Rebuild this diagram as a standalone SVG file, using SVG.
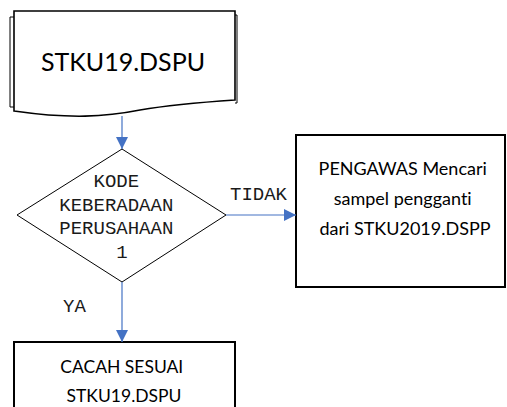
<svg xmlns="http://www.w3.org/2000/svg" width="507" height="407" viewBox="0 0 507 407">
  <style>
    .shape { fill: #ffffff; stroke: #000000; stroke-width: 1.6; }
    .thin { fill: none; stroke: #000000; stroke-width: 1; }
    .box { fill: #ffffff; stroke: #000000; stroke-width: 2; }
    .diamond { fill: #ffffff; stroke: #000000; stroke-width: 1; }
    .sans { font-family: Lato, "Liberation Sans", sans-serif; fill: #000000; text-anchor: middle; font-variant-ligatures: none; }
    .mono { font-family: "Liberation Mono", "DejaVu Sans Mono", monospace; fill: #1a1a1a; }
    .link { fill: none; stroke: #4472c4; stroke-width: 1.2; }
  </style>
  <defs>
    <marker id="arrow" viewBox="0 0 10 10" refX="10" refY="5" markerWidth="12" markerHeight="12" markerUnits="userSpaceOnUse" orient="auto">
      <path d="M0,0 L10,5 L0,10 Z" fill="#4472c4"/>
    </marker>
  </defs>

  <!-- document source -->
  <g id="source">
    <path class="thin" d="M14,17 H10 V107 H14"/>
    <path class="thin" d="M235,15 H237 V103 H235"/>
    <path class="shape" d="M14,11 H235 V100 C205,102 175,104 140,110 C105,117 70,119 14,111 Z"/>
    <text class="sans" x="123" y="71" font-size="25">STKU19.DSPU</text>
  </g>

  <!-- decision -->
  <g id="decision">
    <polygon class="diamond" points="122,149 226,215 122,282 17,215"/>
    <text class="mono" font-size="19" text-anchor="middle">
      <tspan x="122" y="187">KODE</tspan>
      <tspan x="122" y="210.5">KEBERADAAN</tspan>
      <tspan x="122" y="234">PERUSAHAAN</tspan>
      <tspan x="122" y="257.5">1</tspan>
    </text>
  </g>

  <!-- replacement sample -->
  <g id="replace">
    <rect class="box" x="296" y="135" width="209" height="152"/>
    <text class="sans" font-size="18">
      <tspan x="405" y="175">PENGAWAS Mencari</tspan>
      <tspan x="405" y="205">sampel pengganti</tspan>
      <tspan x="405" y="235">dari STKU2019.DSPP</tspan>
    </text>
  </g>

  <!-- enumerate -->
  <g id="enumerate">
    <rect class="box" x="14" y="342" width="221" height="80"/>
    <text class="sans" font-size="17.5">
      <tspan x="124" y="373">CACAH SESUAI</tspan>
      <tspan x="124" y="402">STKU19.DSPU</tspan>
    </text>
  </g>

  <!-- connectors -->
  <g id="connectors">
    <line class="link" x1="122" y1="116" x2="122" y2="149" marker-end="url(#arrow)"/>
    <line class="link" x1="226" y1="215" x2="296" y2="215" marker-end="url(#arrow)"/>
    <line class="link" x1="122" y1="282" x2="122" y2="342" marker-end="url(#arrow)"/>
    <text class="mono" x="230" y="200" font-size="19">TIDAK</text>
    <text class="mono" x="63" y="312" font-size="19">YA</text>
  </g>
</svg>
